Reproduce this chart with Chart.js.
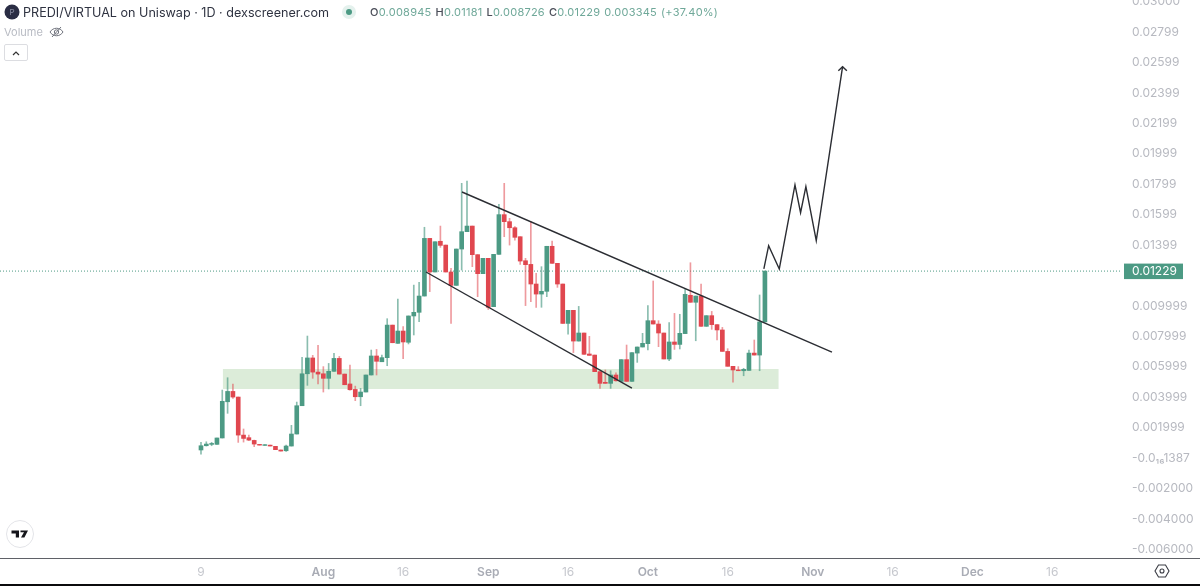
<!DOCTYPE html>
<html>
<head>
<meta charset="utf-8">
<title>PREDI/VIRTUAL</title>
<script src="https://cdn.jsdelivr.net/npm/chart.js@4/dist/chart.umd.min.js"></script>
<style>
  html, body { margin:0; padding:0; background:#fff; }
  body { width:1200px; height:586px; overflow:hidden; position:relative; font-family:Inter, "Noto Sans", sans-serif; }
  canvas { position:absolute; left:0; top:0; }
  .abs { position:absolute; white-space:nowrap; }
  #title { left:23px; top:4px; font-size:12.6px; line-height:17px; color:#2f3341; }
  #ohlc { left:370px; top:5px; font-size:11px; line-height:15px; color:#6fa899; letter-spacing:.25px; }
  #ohlc b { color:#4a4d58; font-weight:500; }
  #ohlc span { margin-right:4px; }
  #volume { left:4px; top:25px; font-size:11px; line-height:14px; color:#b8bbc3; }
  #collapse { left:4px; top:44px; width:22px; height:15px; border:1px solid #dcdde1; border-radius:2px; }
  #axisline { left:0; top:558px; width:1200px; height:1px; background:#5f6167; }
  #bottomline { left:0; top:584px; width:1200px; height:2px; background:#0b0b0d; }
</style>
</head>
<body>
<canvas id="chart" width="1200" height="584"></canvas>

<svg class="abs" style="left:4px;top:4px" width="16" height="16"><circle cx="8" cy="8" r="7.5" fill="#2a2d44"/><text x="8" y="11" font-size="8" fill="#8a8ea3" text-anchor="middle" font-family="Inter">P</text></svg>
<div class="abs" id="title">PREDI/VIRTUAL on Uniswap · 1D · dexscreener.com</div>
<svg class="abs" style="left:342px;top:5px" width="14" height="14"><circle cx="7" cy="7" r="7" fill="#e4f1ed"/><circle cx="7" cy="7" r="3" fill="#4c9a84"/></svg>
<div class="abs" id="ohlc"><span><b>O</b>0.008945</span><span><b>H</b>0.01181</span><span><b>L</b>0.008726</span><span><b>C</b>0.01229</span><span>0.003345</span><span>(+37.40%)</span></div>
<div class="abs" id="volume">Volume</div>
<svg class="abs" style="left:49px;top:25px" width="15" height="14" fill="none" stroke="#6f727c" stroke-width="1"><path d="M1 7c3-5 10-5 13 0c-3 5-10 5-13 0z"/><circle cx="7.5" cy="7" r="2.2"/><path d="M3 12L12 2"/></svg>
<div class="abs" id="collapse"><svg width="22" height="15" fill="none" stroke="#333" stroke-width="1.2"><path d="M8 9l3-3l3 3"/></svg></div>
<svg class="abs" style="left:6px;top:520px" width="28" height="28"><circle cx="14" cy="14" r="13.5" fill="#fff" stroke="#e3e4e8"/><path d="M5.5 10.5h7.5v7h-3.2v-4h-4.3z M14.5 10.5h7.5l-3.6 7h-3.4l3-5.2h-3.5z" fill="#14151a"/></svg>
<svg class="abs" style="left:1154px;top:563px" width="16" height="16" fill="none" stroke="#3a3c44" stroke-width="1.1"><path d="M4.5 2h7L15 8l-3.5 6h-7L1 8z"/><circle cx="8" cy="8" r="2"/></svg>
<div class="abs" id="axisline"></div>
<div class="abs" id="bottomline"></div>

<script>
// -------- 蠟燭資料 (7/9 起每日一根) --------
const opens = [
  0.00053,0.00081,0.00090,0.00090,0.00132,0.00370,0.00438,0.00401,0.00151,0.00134,
  0.00116,0.00090,0.00083,0.00085,0.00077,0.00053,0.00048,0.00079,0.00158,0.00344,
  0.00554,0.00658,0.00565,0.00554,0.00524,0.00570,0.00655,0.00552,0.00487,0.00451,
  0.00403,0.00434,0.00546,0.00671,0.00633,0.00660,0.00874,0.00754,0.00835,0.00761,
  0.00934,0.00958,0.01065,0.01444,0.01223,0.01425,0.01400,0.01223,0.01135,0.01374,
  0.01488,0.01525,0.01337,0.01212,0.01313,0.00995,0.01339,0.01600,0.01554,0.01514,
  0.01455,0.01297,0.01273,0.01144,0.01078,0.01096,0.01392,0.01280,0.01144,0.00885,
  0.00971,0.00769,0.00822,0.00684,0.00677,0.00568,0.00498,0.00491,0.00546,0.00504,
  0.00647,0.00504,0.00690,0.00730,0.00752,0.00903,0.00881,0.00822,0.00651,0.00763,
  0.00747,0.00818,0.01070,0.01024,0.01065,0.00866,0.00936,0.00877,0.00842,0.00701,
  0.00603,0.00579,0.00574,0.00576,0.00690,0.00677,0.00895
];
const closes = [
  0.00081,0.00092,0.00096,0.00132,0.00373,0.00438,0.00401,0.00151,0.00129,0.00118,
  0.00092,0.00085,0.00088,0.00079,0.00055,0.00046,0.00079,0.00158,0.00344,0.00554,
  0.00658,0.00565,0.00552,0.00524,0.00570,0.00655,0.00552,0.00482,0.00449,0.00403,
  0.00434,0.00546,0.00671,0.00636,0.00660,0.00874,0.00758,0.00835,0.00763,0.00934,
  0.00958,0.01065,0.01444,0.01223,0.01422,0.01398,0.01223,0.01135,0.01374,0.01488,
  0.01525,0.01337,0.01212,0.01313,0.00991,0.01339,0.01600,0.01554,0.01514,0.01451,
  0.01295,0.01271,0.01144,0.01078,0.01096,0.01392,0.01280,0.01144,0.00885,0.00971,
  0.00769,0.00822,0.00682,0.00675,0.00568,0.00491,0.00491,0.00546,0.00508,0.00647,
  0.00504,0.00693,0.00730,0.00754,0.00903,0.00881,0.00822,0.00651,0.00763,0.00747,
  0.00820,0.01076,0.01024,0.01065,0.00866,0.00936,0.00877,0.00842,0.00701,0.00603,
  0.00579,0.00574,0.00583,0.00690,0.00677,0.00895,0.01229
];
const highs = [
  0.00103,0.00107,0.00103,0.00132,0.00447,0.00528,0.00487,0.00401,0.00191,0.00151,
  0.00118,0.00090,0.00088,0.00085,0.00077,0.00053,0.00085,0.00215,0.00368,0.00662,
  0.00802,0.00675,0.00741,0.00601,0.00622,0.00688,0.00668,0.00552,0.00611,0.00473,
  0.00458,0.00546,0.00710,0.00714,0.00677,0.00916,0.00874,0.01045,0.00864,0.00934,
  0.01137,0.01155,0.01517,0.01444,0.01422,0.01525,0.01400,0.01247,0.01374,0.01806,
  0.01821,0.01525,0.01337,0.01313,0.01313,0.01339,0.01668,0.01806,0.01576,0.01521,
  0.01455,0.01313,0.01554,0.01214,0.01258,0.01392,0.01427,0.01280,0.01144,0.00971,
  0.00971,0.00997,0.00822,0.00800,0.00677,0.00568,0.00579,0.00574,0.00561,0.00647,
  0.00743,0.00693,0.00730,0.00820,0.01002,0.01164,0.00903,0.00822,0.00890,0.00951,
  0.00945,0.01109,0.01284,0.01065,0.01144,0.00936,0.00964,0.00877,0.00859,0.00719,
  0.00603,0.00601,0.00590,0.00710,0.00776,0.01072,0.01229
];
const lows = [
  0.00026,0.00079,0.00081,0.00090,0.00132,0.00294,0.00392,0.00103,0.00105,0.00114,
  0.00075,0.00085,0.00083,0.00079,0.00055,0.00046,0.00044,0.00079,0.00158,0.00344,
  0.00478,0.00524,0.00487,0.00434,0.00454,0.00570,0.00552,0.00482,0.00447,0.00377,
  0.00344,0.00434,0.00546,0.00546,0.00633,0.00607,0.00758,0.00754,0.00653,0.00750,
  0.00809,0.00896,0.01065,0.01094,0.01223,0.01385,0.01223,0.00885,0.01135,0.01236,
  0.01488,0.01258,0.01061,0.01212,0.00977,0.00995,0.01339,0.01455,0.01400,0.01433,
  0.01273,0.01002,0.01028,0.00991,0.00991,0.01061,0.01280,0.01122,0.00885,0.00815,
  0.00693,0.00769,0.00682,0.00675,0.00568,0.00458,0.00491,0.00458,0.00506,0.00504,
  0.00504,0.00504,0.00629,0.00730,0.00710,0.00881,0.00732,0.00651,0.00640,0.00714,
  0.00717,0.00818,0.01024,0.00771,0.00866,0.00866,0.00846,0.00776,0.00701,0.00603,
  0.00498,0.00574,0.00541,0.00576,0.00677,0.00574,0.00895
];

// -------- 座標軸 --------
const xTickDays = [0,23,38,54,69,84,99,115,130,145,160];
const xTickLabels = ["9","Aug","16","Sep","16","Oct","16","Nov","16","Dec","16"];
const yTickValues = [0.03,0.028,0.026,0.024,0.022,0.02,0.018,0.016,0.014,0.01,0.008,0.006,0.004,0.002,0,-0.002,-0.004,-0.006];
const yTickLabels = ["0.03000","0.02799","0.02599","0.02399","0.02199","0.01999","0.01799","0.01599","0.01399","0.009999","0.007999","0.005999","0.003999","0.001999","-0.0₁₆1387","-0.002000","-0.004000","-0.006000"];

// -------- 手繪線 --------
const channelUpperX = [49.06,118.6];
const channelUpperY = [0.01749,0.00697];
const channelLowerX = [42.3,81.0];
const channelLowerY = [0.01223,0.00460];
const forecastX = [105.8,106.7,108.7,111.65,112.7,113.7,115.65,120.6];
const forecastY = [0.01243,0.01396,0.01243,0.01795,0.01613,0.01784,0.01429,0.02573];
const arrowHeadX = [119.8,120.6,121.4];
const arrowHeadY = [0.02546,0.02573,0.02546];
const zoneX = [4.08,108.6];
const zoneTop = 0.00585;
const zoneBottom = 0.00454;

const UP = '#4c9a84';
const DOWN = '#e0474f';
const LINE = '#2b2d33';

const days = opens.map((_, i) => i);
const lastClose = closes[closes.length - 1];

function zip(xs, ys){
    return xs.map((x, i) => ({x: x, y: ys[i]}));
}

function drawnLine(xs, ys){
    return {
        type:'line', data:zip(xs, ys), order:1,
        borderColor:LINE, borderWidth:1.4, pointRadius:0, tension:0, fill:false
    };
}

// 最新價標籤
const lastPriceLabel = {
    id:'lastPriceLabel',
    afterDraw(chart){
        const y = chart.scales.y.getPixelForValue(lastClose);
        const ctx = chart.ctx;
        ctx.save();
        ctx.fillStyle = UP;
        ctx.fillRect(1124, y - 7.5, 59, 15.5);
        ctx.fillStyle = '#fff';
        ctx.font = '12px Inter';
        ctx.textBaseline = 'middle';
        ctx.fillText(lastClose.toFixed(5), 1132, y + 0.5);
        ctx.restore();
    }
};

new Chart(document.getElementById('chart'), {
    type:'bar',
    data:{
        datasets:[
            // 綠色區間
            {
                type:'line', data:zip(zoneX, [zoneTop, zoneTop]), order:5,
                borderWidth:0, pointRadius:0,
                fill:{value:zoneBottom}, backgroundColor:'#dcecd9'
            },
            // 最新價虛線
            {
                type:'line', data:zip([-37.78,173.12], [lastClose,lastClose]), order:4,
                borderColor:UP, borderWidth:1, borderDash:[1,2], pointRadius:0, fill:false
            },
            // 影線
            {
                data:days.map(i => ({x:i, y:[lows[i], highs[i]]})), order:3,
                barThickness:1, borderWidth:0,
                backgroundColor:days.map(i => closes[i] >= opens[i] ? 'rgba(76,154,132,.65)' : 'rgba(224,71,79,.55)')
            },
            // 實體
            {
                data:days.map(i => ({x:i, y:[opens[i], closes[i]]})), order:2,
                barThickness:4, borderWidth:0,
                backgroundColor:days.map(i => closes[i] >= opens[i] ? UP : DOWN)
            },
            drawnLine(channelUpperX, channelUpperY),
            drawnLine(channelLowerX, channelLowerY),
            drawnLine(forecastX, forecastY),
            drawnLine(arrowHeadX, arrowHeadY)
        ]
    },
    options:{
        responsive:false,
        animation:false,
        devicePixelRatio:1,
        layout:{padding:0},
        grouped:false,
        plugins:{legend:{display:false}, tooltip:{enabled:false}},
        scales:{
            x:{
                type:'linear', min:-37.78, max:173.12, offset:false,
                grid:{display:false, tickLength:0}, border:{display:false},
                afterBuildTicks(scale){ scale.ticks = xTickDays.map(v => ({value:v})); },
                afterFit(scale){ scale.height = 26; scale.paddingLeft = 0; scale.paddingRight = 0; },
                ticks:{
                    autoSkip:false, maxRotation:0, padding:7,
                    callback:(v, i) => xTickLabels[i],
                    color:ctx => isNaN(xTickLabels[ctx.index]) ? '#a9acb5' : '#c6c8ce',
                    font:ctx => ({family:'Inter', size:12, weight:isNaN(xTickLabels[ctx.index]) ? '600' : '400'})
                }
            },
            y:{
                type:'linear', position:'right', min:-0.00657, max:0.03011,
                grid:{display:false, tickLength:0}, border:{display:false},
                afterBuildTicks(scale){ scale.ticks = yTickValues.map(v => ({value:v})); },
                afterFit(scale){ scale.width = 78; scale.paddingTop = 0; scale.paddingBottom = 0; },
                ticks:{
                    autoSkip:false, padding:10,
                    callback:(v, i) => yTickLabels[i],
                    color:'#b7b9c0',
                    font:{family:'Inter', size:12}
                }
            }
        }
    },
    plugins:[lastPriceLabel]
});
</script>
</body>
</html>
